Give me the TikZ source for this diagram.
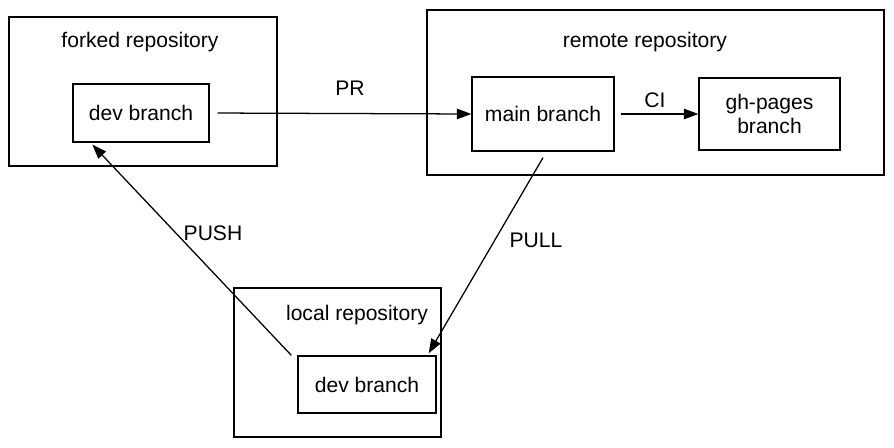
\documentclass[tikz,border=0pt]{standalone}
\usepackage{fontspec}
\setsansfont{Liberation Sans}
\usetikzlibrary{positioning,arrows.meta}

\begin{document}
\begin{tikzpicture}[
  x=0.025cm, y=-0.025cm,
  font=\fontsize{15}{17}\selectfont\sffamily,
  repo/.style={draw=black, line width=0.9pt, inner sep=0pt},
  branch/.style={draw=black, line width=0.9pt, align=center, inner sep=0pt},
  ttl/.style={inner sep=1pt},
  lbl/.style={inner sep=1pt},
  arr/.style={-{Triangle[length=3.6mm, width=2.6mm]}, line width=0.9pt, draw=black},
]
\useasboundingbox (0,0) rectangle (894,447);

%% ============ repositories ============
\node[repo, minimum width=6.7cm, minimum height=3.725cm] (fork) at (143,91.5) {};
\node[repo, minimum width=11.425cm, minimum height=4.125cm] (remote) at (655.5,92.5) {};
\node[repo, minimum width=5.175cm, minimum height=3.725cm] (local) at (337.5,362.5) {};

\node[ttl] (forkt) at (140,42) {forked repository};
\node[ttl] (remotet) at (645,42) {remote repository};
\node[ttl] (localt) at (357,315) {local repository};

%% ============ branches ============
\node[branch, minimum width=3.4cm, minimum height=1.45cm] (devf) at (141,113) {dev branch};
\node[branch, minimum width=3.55cm, minimum height=1.85cm] (main) at (543,114) {main branch};
\node[branch, minimum width=3.525cm, minimum height=1.8cm] (pages) at (769.5,114) {gh-pages\\branch};
\node[branch, minimum width=3.45cm, minimum height=1.425cm] (devl) at (367,384.5) {dev branch};

%% ============ flows ============
\draw[arr, shorten <=0.2cm] (devf.east) -- (main.west);
\draw[arr, shorten <=0.15cm] (main.east) -- (pages.west);
\draw[arr] ([xshift=-0.15cm]devl.north west) -- ([xshift=0.5cm, yshift=-0.05cm]devf.south west);
\draw[arr] ([yshift=-0.15cm]main.south) -- ([xshift=-0.2cm, yshift=0.05cm]devl.north east);

% flow labels
\node[lbl] (pr) at (350,88) {PR};
\node[lbl] (ci) at (655,100) {CI};
\node[lbl] (push) at (213,233) {PUSH};
\node[lbl] (pull) at (536,240) {PULL};

\end{tikzpicture}
\end{document}
